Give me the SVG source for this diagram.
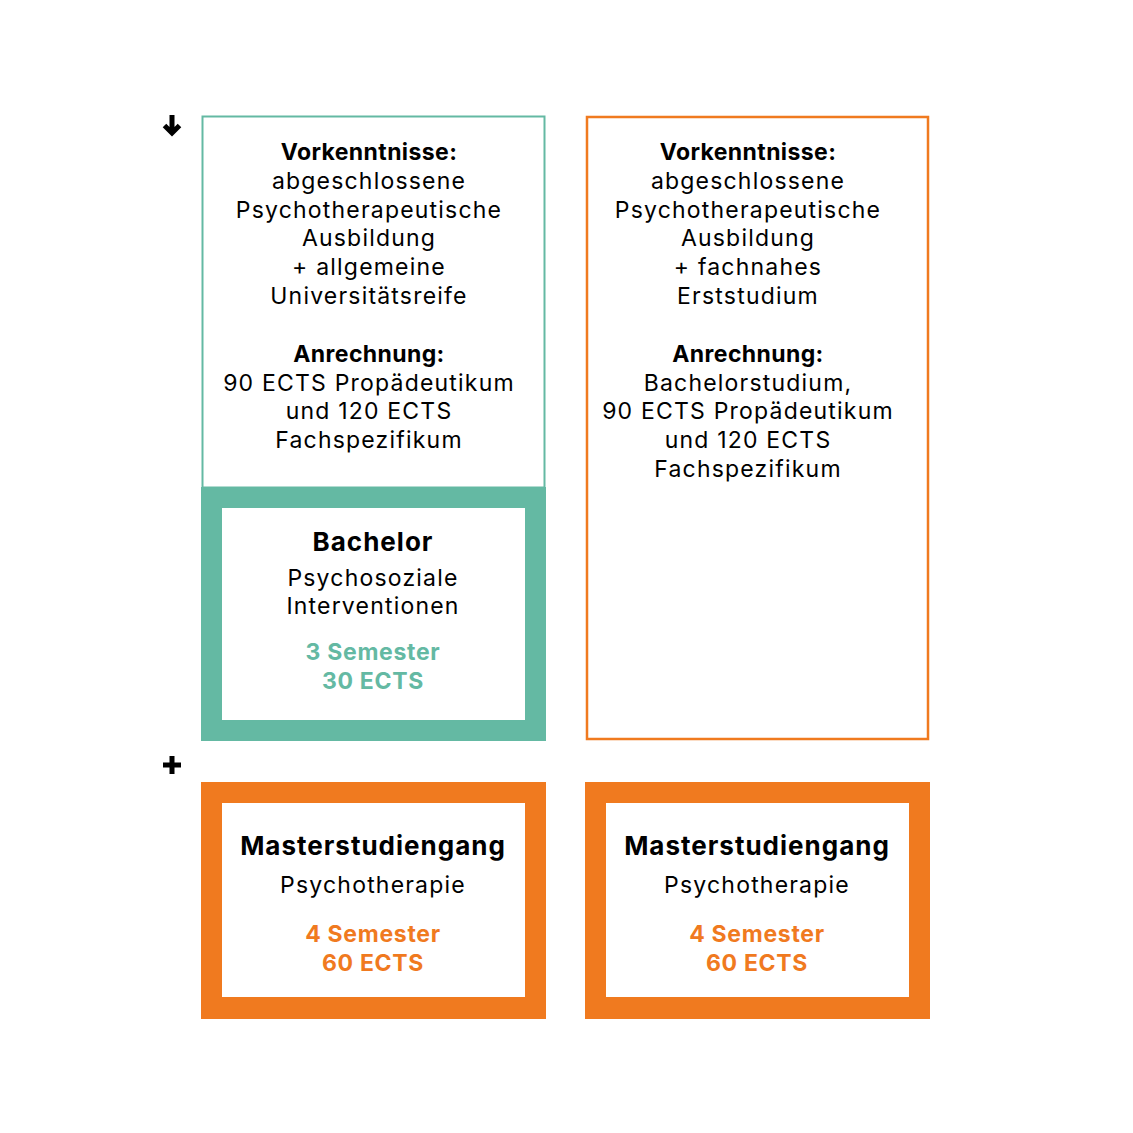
<svg xmlns="http://www.w3.org/2000/svg" width="1133" height="1133" viewBox="0 0 1133 1133">
<style>
text{font-family:Inter,"Liberation Sans",sans-serif;text-anchor:middle;fill:#000}
.r{font-size:23px;font-weight:400;letter-spacing:1.2px}
.b{font-size:23px;font-weight:700;letter-spacing:0.4px}
.h{font-size:26px;font-weight:700;letter-spacing:1px}
.t{fill:#64b9a3;font-size:23px;font-weight:700;letter-spacing:0.7px}
.o{fill:#f07a1f;font-size:23px;font-weight:700;letter-spacing:0.7px}
</style>
<rect width="1133" height="1133" fill="#fff"/>
<g id="icons">
<path d="M172 115 V133 M164.5 125.5 L172 133 L179.5 125.5" fill="none" stroke="#000" stroke-width="5"/>
<path d="M172 756 V774 M163 765 H181" fill="none" stroke="#000" stroke-width="5"/>
</g>
<g id="vorkenntnisse-left">
<rect x="202.5" y="116.5" width="342" height="371" fill="#fff" stroke="#64b9a3" stroke-width="2"/>
<text x="369" y="160" class="b">Vorkenntnisse:</text>
<text x="369" y="189" class="r">abgeschlossene</text>
<text x="369" y="218" class="r">Psychotherapeutische</text>
<text x="369" y="246" class="r">Ausbildung</text>
<text x="369" y="275" class="r">+ allgemeine</text>
<text x="369" y="304" class="r">Universitätsreife</text>
<text x="369" y="362" class="b">Anrechnung:</text>
<text x="369" y="391" class="r">90 ECTS Propädeutikum</text>
<text x="369" y="419" class="r">und 120 ECTS</text>
<text x="369" y="448" class="r">Fachspezifikum</text>
</g>
<g id="bachelor">
<rect x="201" y="487" width="345" height="254" fill="#64b9a3"/>
<rect x="222" y="508" width="303" height="212" fill="#fff"/>
<text x="373" y="551" class="h">Bachelor</text>
<text x="373" y="586" class="r">Psychosoziale</text>
<text x="373" y="614" class="r">Interventionen</text>
<text x="373" y="660" class="t">3 Semester</text>
<text x="373" y="689" class="t">30 ECTS</text>
</g>
<g id="vorkenntnisse-right">
<rect x="587" y="117" width="341" height="622" fill="#fff" stroke="#f07a1f" stroke-width="2.5"/>
<text x="748" y="160" class="b">Vorkenntnisse:</text>
<text x="748" y="189" class="r">abgeschlossene</text>
<text x="748" y="218" class="r">Psychotherapeutische</text>
<text x="748" y="246" class="r">Ausbildung</text>
<text x="748" y="275" class="r">+ fachnahes</text>
<text x="748" y="304" class="r">Erststudium</text>
<text x="748" y="362" class="b">Anrechnung:</text>
<text x="748" y="391" class="r">Bachelorstudium,</text>
<text x="748" y="419" class="r">90 ECTS Propädeutikum</text>
<text x="748" y="448" class="r">und 120 ECTS</text>
<text x="748" y="477" class="r">Fachspezifikum</text>
</g>
<g id="master-left">
<rect x="201" y="782" width="345" height="237" fill="#f07a1f"/>
<rect x="222" y="803" width="303" height="194" fill="#fff"/>
<text x="373" y="855" class="h">Masterstudiengang</text>
<text x="373" y="893" class="r">Psychotherapie</text>
<text x="373" y="942" class="o">4 Semester</text>
<text x="373" y="971" class="o">60 ECTS</text>
</g>
<g id="master-right">
<rect x="585" y="782" width="345" height="237" fill="#f07a1f"/>
<rect x="606" y="803" width="303" height="194" fill="#fff"/>
<text x="757" y="855" class="h">Masterstudiengang</text>
<text x="757" y="893" class="r">Psychotherapie</text>
<text x="757" y="942" class="o">4 Semester</text>
<text x="757" y="971" class="o">60 ECTS</text>
</g>
<g id="connectors"></g>
</svg>
